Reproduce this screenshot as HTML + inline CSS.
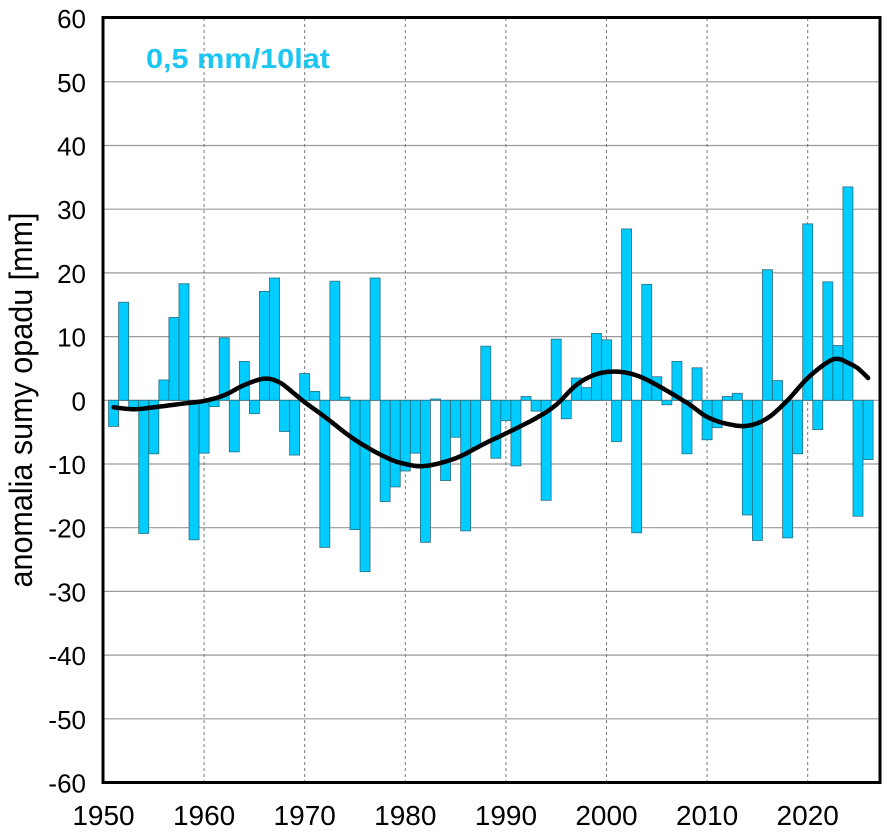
<!DOCTYPE html>
<html><head><meta charset="utf-8"><style>
html,body{margin:0;padding:0;background:#fff;}
svg{display:block;font-family:"Liberation Sans",Arial,sans-serif;}
</style></head><body>
<svg id="c" width="886" height="834" viewBox="0 0 886 834" xmlns="http://www.w3.org/2000/svg">
<g id="grid"></g>
<g id="bars"></g>
<polyline id="curve" fill="none" stroke="#000" stroke-width="4.5" stroke-linejoin="round" stroke-linecap="round" points=""/>
<rect x="103" y="17.5" width="777" height="765" fill="none" stroke="#000" stroke-width="3"/>
<text x="146" y="68" font-size="28" font-weight="bold" fill="#1CC6F2" textLength="184" lengthAdjust="spacingAndGlyphs">0,5 mm/10lat</text>
<text transform="translate(32,400) rotate(-90)" font-size="32" text-anchor="middle" fill="#000" textLength="375" lengthAdjust="spacingAndGlyphs">anomalia sumy opadu [mm]</text>
<g id="labels" fill="#000"></g>
</svg>
<script>
var NS="http://www.w3.org/2000/svg";
function el(p,n,a,t){var e=document.createElementNS(NS,n);for(var k in a)e.setAttribute(k,a[k]);if(t!==undefined)e.textContent=t;p.appendChild(e);return e;}
var X0=103.5,PX=10.06,Y0=400.3,PY=6.37;
function X(y){return X0+(y-1950)*PX;}
function Y(v){return Y0-v*PY;}
var grid=document.getElementById('grid'),lab=document.getElementById('labels');
for(var v=-60;v<=60;v+=10){
  if(v>-60&&v<60) el(grid,'line',{x1:103,x2:880,y1:Y(v),y2:Y(v),stroke:'#9a9a9a','stroke-width':1.2});
  el(lab,'text',{x:86,y:Y(v)+10,'text-anchor':'end','font-size':26},String(v));
}
for(var yr=1950;yr<=2020;yr+=10){
  if(yr>1950) el(grid,'line',{x1:X(yr),x2:X(yr),y1:18,y2:782,stroke:'#777','stroke-width':1,'stroke-dasharray':'3,3'});
  el(lab,'text',{x:X(yr),y:825,'text-anchor':'middle','font-size':28},String(yr));
}
var d=[-4.1,15.4,-1.3,-20.9,-8.4,3.2,13.0,18.3,-21.9,-8.3,-1.0,9.8,-8.1,6.1,-2.1,17.1,19.2,-4.9,-8.6,4.2,1.4,-23.1,18.7,0.5,-20.3,-26.9,19.2,-15.9,-13.6,-11.1,-8.3,-22.3,0.2,-12.6,-5.8,-20.5,-7.4,8.5,-9.1,-3.2,-10.3,0.6,-1.7,-15.7,9.6,-2.9,3.5,2.0,10.5,9.5,-6.5,26.9,-20.8,18.2,3.7,-0.7,6.1,-8.4,5.1,-6.2,-4.3,0.6,1.1,-18.0,-22.0,20.5,3.1,-21.6,-8.4,27.7,-4.6,18.6,8.6,33.5,-18.2,-9.3];
var bars=document.getElementById('bars');
for(var i=0;i<d.length;i++){
  var yr=1951+i,v=d[i],x=X(yr)-5,y=v>=0?Y(v):Y0,h=Math.abs(v)*PY;
  el(bars,'rect',{x:x,y:y,width:10,height:h,fill:'#00CCFF',stroke:'#2a6f80','stroke-width':0.8});
}
var pts=[[1951,-1.1],[1953,-1.4],[1955,-1.1],[1958,-0.5],[1960,-0.1],[1962,0.8],[1964,2.4],[1966,3.4],[1967.5,2.8],[1969,1.0],[1970,-0.3],[1972,-2.6],[1975,-6.2],[1978,-8.9],[1980,-10.0],[1982,-10.3],[1985,-9.1],[1988,-6.7],[1990,-5.2],[1993,-2.8],[1995,-0.7],[1997,2.4],[1999,4.1],[2001,4.5],[2003,3.9],[2005,2.4],[2008,-0.4],[2010,-2.6],[2012,-3.7],[2014,-4.0],[2016,-2.8],[2018,0.0],[2020,3.5],[2022,6.0],[2023,6.5],[2024,5.9],[2025,5.0],[2026,3.5]];
var out=[];
for(var i=0;i<pts.length-1;i++){
  var p0=pts[Math.max(i-1,0)],p1=pts[i],p2=pts[i+1],p3=pts[Math.min(i+2,pts.length-1)];
  for(var t=0;t<1;t+=0.1){
    var t2=t*t,t3=t2*t;
    var cr=function(a,b,c,e){return 0.5*((2*b)+(-a+c)*t+(2*a-5*b+4*c-e)*t2+(-a+3*b-3*c+e)*t3);};
    out.push(X(cr(p0[0],p1[0],p2[0],p3[0])).toFixed(1)+','+Y(cr(p0[1],p1[1],p2[1],p3[1])).toFixed(1));
  }
}
out.push(X(2026).toFixed(1)+','+Y(3.5).toFixed(1));
document.getElementById('curve').setAttribute('points',out.join(' '));
</script>
</body></html>
